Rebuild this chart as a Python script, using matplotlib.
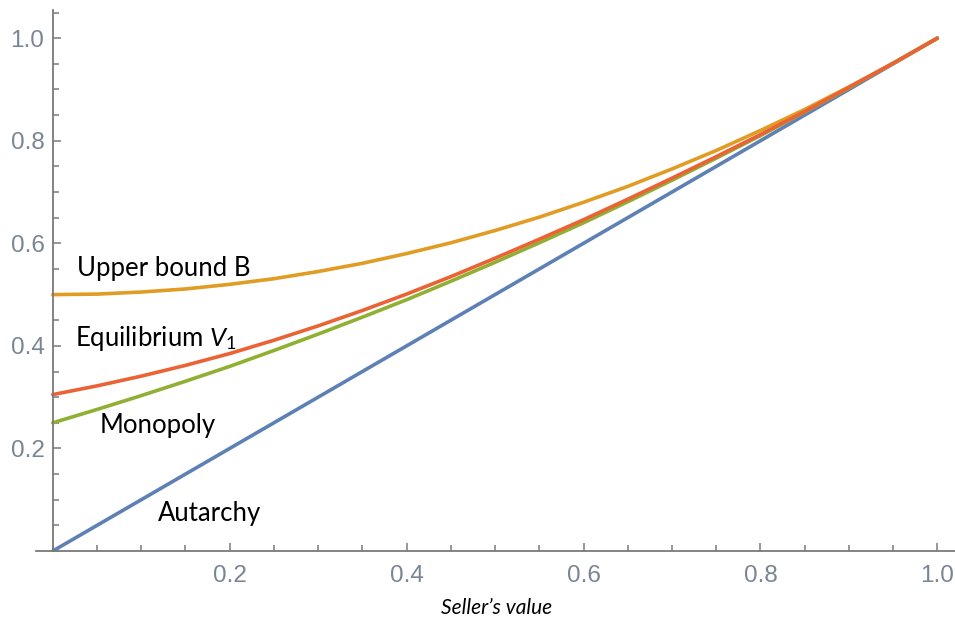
import matplotlib
matplotlib.use("Agg")
import matplotlib.pyplot as plt
from matplotlib.ticker import MultipleLocator, FixedLocator

# seller's value grid and curves
x_vals = [0.00, 0.05, 0.10, 0.15, 0.20, 0.25, 0.30, 0.35, 0.40, 0.45, 0.50,
          0.55, 0.60, 0.65, 0.70, 0.75, 0.80, 0.85, 0.90, 0.95, 1.00]
upper_bound = [0.500, 0.501, 0.505, 0.511, 0.520, 0.531, 0.545, 0.561, 0.580, 0.601, 0.625,
               0.651, 0.680, 0.711, 0.745, 0.781, 0.820, 0.861, 0.905, 0.951, 1.000]
monopoly = [0.250, 0.276, 0.303, 0.331, 0.360, 0.391, 0.423, 0.456, 0.490, 0.526, 0.563,
            0.601, 0.640, 0.681, 0.723, 0.766, 0.810, 0.856, 0.903, 0.951, 1.000]
equilibrium = [0.305, 0.322, 0.341, 0.362, 0.385, 0.411, 0.439, 0.469, 0.501, 0.535, 0.571,
               0.608, 0.646, 0.686, 0.727, 0.769, 0.812, 0.857, 0.904, 0.951, 1.000]
autarchy_x = [0.0, 1.0]
autarchy = [0.0, 1.0]

tick_vals = [0.2, 0.4, 0.6, 0.8, 1.0]
tick_labels = ["0.2", "0.4", "0.6", "0.8", "1.0"]

plt.rcParams['mathtext.fontset'] = 'custom'
plt.rcParams['mathtext.it'] = 'Lato:italic'
plt.rcParams['mathtext.rm'] = 'Lato'

fig = plt.figure(figsize=(9.55, 6.24), dpi=100)
ax = fig.add_axes([36 / 955, 73 / 624, 919 / 955, 541 / 624])

lw = 2.6
ax.plot(autarchy_x, autarchy, color='#5E81B5', lw=lw, solid_capstyle='round')
ax.plot(x_vals, upper_bound, color='#E19C24', lw=lw, solid_capstyle='round')
ax.plot(x_vals, monopoly, color='#8FB032', lw=lw, solid_capstyle='round')
ax.plot(x_vals, equilibrium, color='#EB6235', lw=lw, solid_capstyle='round')

ax.set_xlim(-0.019, 1.02)
ax.set_ylim(0, 1.055)

for side in ['top', 'right']:
    ax.spines[side].set_visible(False)
ax.spines['left'].set_position(('data', 0))
ax.spines['bottom'].set_position(('data', 0))
for side in ['left', 'bottom']:
    ax.spines[side].set_color('#7a7a7a')
    ax.spines[side].set_linewidth(1.3)

ax.xaxis.set_major_locator(FixedLocator(tick_vals))
ax.yaxis.set_major_locator(FixedLocator(tick_vals))
ax.set_xticklabels(tick_labels)
ax.set_yticklabels(tick_labels)
ax.xaxis.set_minor_locator(MultipleLocator(0.05))
ax.yaxis.set_minor_locator(MultipleLocator(0.05))

lab_col = '#7a8594'
ax.tick_params(axis='both', which='both', direction='in', color='#7a7a7a', width=1.1)
ax.tick_params(axis='both', which='major', length=6)
ax.tick_params(axis='both', which='minor', length=4)
ax.tick_params(axis='x', which='major', pad=10, labelsize=17.5, labelcolor=lab_col)
ax.tick_params(axis='y', which='major', pad=6, labelsize=17.5, labelcolor=lab_col)
for lab in ax.get_xticklabels() + ax.get_yticklabels():
    lab.set_family('Liberation Sans')

fs = 18.5
ax.text(0.027, 0.551, "Upper bound B", fontsize=fs, family='Lato', va='center')
ax.text(0.025, 0.414, r"Equilibrium $\mathit{V_1}$", fontsize=fs, family='Lato', va='center')
ax.text(0.053, 0.245, "Monopoly", fontsize=fs, family='Lato', va='center')
ax.text(0.119, 0.074, "Autarchy", fontsize=fs, family='Lato', va='center')

fig.text(497 / 955, 1 - 608 / 624, "Seller\u2019s value", fontsize=15,
         family='Lato', style='italic', ha='center', va='center')

fig.savefig("out.png", dpi=100, facecolor='white')
